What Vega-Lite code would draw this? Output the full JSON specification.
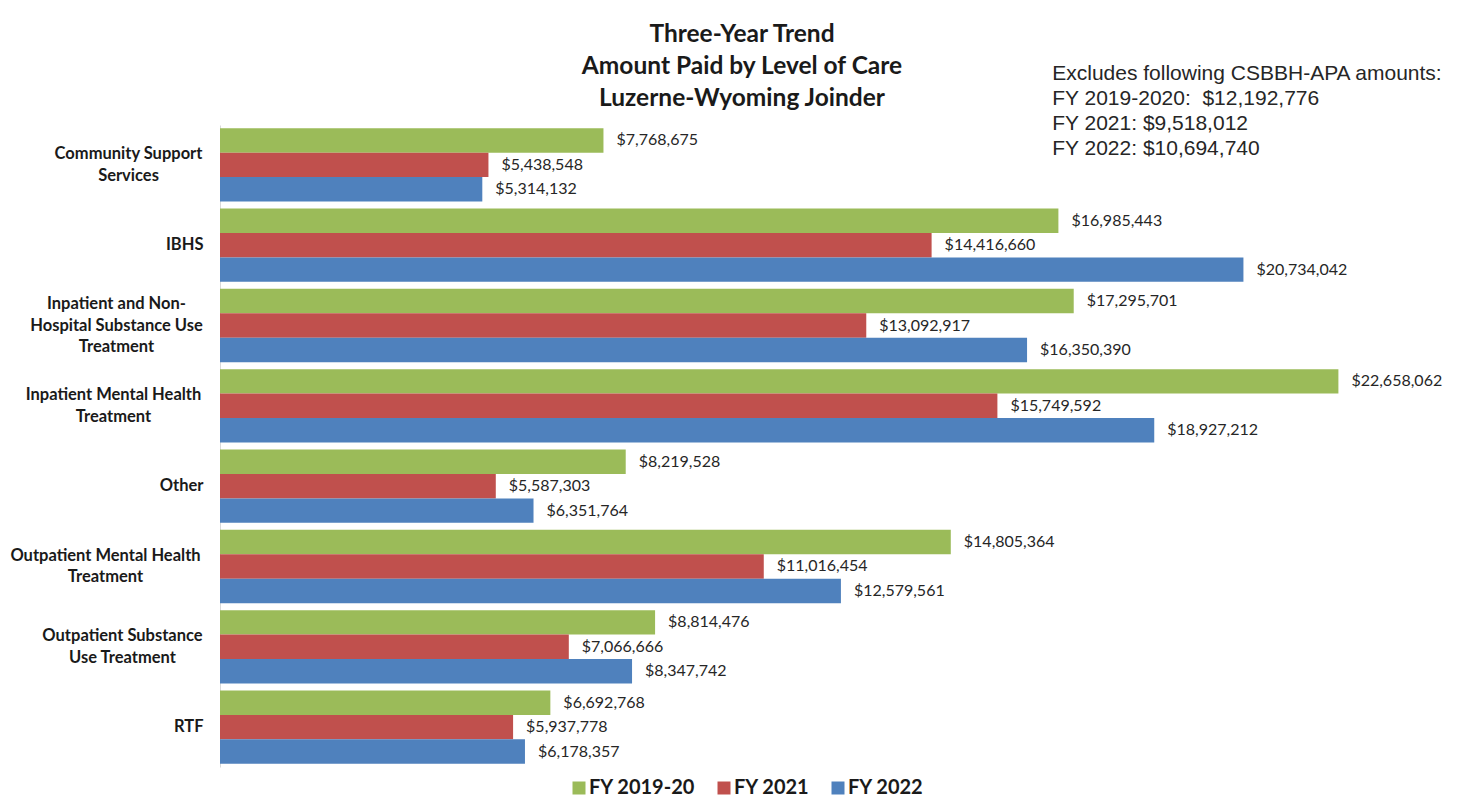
{
  "$schema": "https://vega.github.io/schema/vega-lite/v6.json",
  "width": 1234,
  "height": 642,
  "autosize": {"type": "none"},
  "padding": {"left": 220, "top": 125, "right": 28, "bottom": 44},
  "background": "white",
  "title": {
    "text": ["Three-Year Trend", "Amount Paid by Level of Care", "Luzerne-Wyoming Joinder"],
    "font": "Lato",
    "fontSize": 24.5,
    "fontWeight": "bold",
    "lineHeight": 32,
    "color": "#1a1a1a",
    "anchor": "middle",
    "dx": -95,
    "dy": 61,
    "offset": 12
  },
  "data": {
    "values": [
      {"category": "Community Support Services", "series": "FY 2019-20", "amount": 7768675},
      {"category": "Community Support Services", "series": "FY 2021", "amount": 5438548},
      {"category": "Community Support Services", "series": "FY 2022", "amount": 5314132},
      {"category": "IBHS", "series": "FY 2019-20", "amount": 16985443},
      {"category": "IBHS", "series": "FY 2021", "amount": 14416660},
      {"category": "IBHS", "series": "FY 2022", "amount": 20734042},
      {"category": "Inpatient and Non-Hospital Substance Use Treatment", "series": "FY 2019-20", "amount": 17295701},
      {"category": "Inpatient and Non-Hospital Substance Use Treatment", "series": "FY 2021", "amount": 13092917},
      {"category": "Inpatient and Non-Hospital Substance Use Treatment", "series": "FY 2022", "amount": 16350390},
      {"category": "Inpatient Mental Health Treatment", "series": "FY 2019-20", "amount": 22658062},
      {"category": "Inpatient Mental Health Treatment", "series": "FY 2021", "amount": 15749592},
      {"category": "Inpatient Mental Health Treatment", "series": "FY 2022", "amount": 18927212},
      {"category": "Other", "series": "FY 2019-20", "amount": 8219528},
      {"category": "Other", "series": "FY 2021", "amount": 5587303},
      {"category": "Other", "series": "FY 2022", "amount": 6351764},
      {"category": "Outpatient Mental Health Treatment", "series": "FY 2019-20", "amount": 14805364},
      {"category": "Outpatient Mental Health Treatment", "series": "FY 2021", "amount": 11016454},
      {"category": "Outpatient Mental Health Treatment", "series": "FY 2022", "amount": 12579561},
      {"category": "Outpatient Substance Use Treatment", "series": "FY 2019-20", "amount": 8814476},
      {"category": "Outpatient Substance Use Treatment", "series": "FY 2021", "amount": 7066666},
      {"category": "Outpatient Substance Use Treatment", "series": "FY 2022", "amount": 8347742},
      {"category": "RTF", "series": "FY 2019-20", "amount": 6692768},
      {"category": "RTF", "series": "FY 2021", "amount": 5937778},
      {"category": "RTF", "series": "FY 2022", "amount": 6178357}
    ]
  },
  "encoding": {
    "y": {
      "field": "category",
      "type": "nominal",
      "sort": null,
      "scale": {"paddingInner": 0.087, "paddingOuter": 0.04},
      "axis": {
        "title": null,
        "ticks": false,
        "domainColor": "#d9d9d9",
        "domainWidth": 1,
        "labelFont": "Lato",
        "labelFontSize": 16.5,
        "labelFontWeight": "bold",
        "labelColor": "#1a1a1a",
        "labelLineHeight": 21.5,
        "labelBaseline": "middle",
        "labelLimit": 0,
        "labelExpr": "datum.value == 'Community Support Services' ? ['Community Support', 'Services'] : datum.value == 'Inpatient and Non-Hospital Substance Use Treatment' ? ['Inpatient and Non-', 'Hospital Substance Use', 'Treatment'] : datum.value == 'Inpatient Mental Health Treatment' ? ['Inpatient Mental Health', 'Treatment'] : datum.value == 'Outpatient Mental Health Treatment' ? ['Outpatient Mental Health', 'Treatment'] : datum.value == 'Outpatient Substance Use Treatment' ? ['Outpatient Substance', 'Use Treatment'] : datum.value",
        "labelAlign": {
          "condition": {"test": "indexof(['IBHS','Other','RTF'], datum.value) >= 0", "value": "right"},
          "value": "center"
        },
        "labelOffset": {
          "condition": [
            {"test": "indexof(['IBHS','Other','RTF'], datum.value) >= 0", "value": 0},
            {"test": "datum.value == 'Inpatient and Non-Hospital Substance Use Treatment'", "value": -21.5}
          ],
          "value": -10.75
        },
        "labelPadding": {
          "condition": [
            {"test": "indexof(['IBHS','Other','RTF'], datum.value) >= 0", "value": 17},
            {"test": "datum.value == 'Community Support Services'", "value": 92},
            {"test": "datum.value == 'Inpatient and Non-Hospital Substance Use Treatment'", "value": 104},
            {"test": "datum.value == 'Inpatient Mental Health Treatment'", "value": 107},
            {"test": "datum.value == 'Outpatient Mental Health Treatment'", "value": 115}
          ],
          "value": 98
        }
      }
    }
  },
  "layer": [
    {
      "mark": {"type": "bar"},
      "encoding": {
        "x": {"field": "amount", "type": "quantitative", "scale": {"domain": [0, 25000000], "nice": false}, "axis": null},
        "yOffset": {"field": "series", "type": "nominal", "scale": {"domain": ["FY 2019-20", "FY 2021", "FY 2022"], "paddingInner": 0, "paddingOuter": 0}},
        "color": {
          "field": "series",
          "type": "nominal",
          "scale": {"domain": ["FY 2019-20", "FY 2021", "FY 2022"], "range": ["#9BBB59", "#C0504D", "#4F81BD"]},
          "legend": {
            "title": null,
            "orient": "none",
            "legendX": 349,
            "legendY": 653,
            "direction": "horizontal",
            "symbolType": "square",
            "symbolSize": 169,
            "symbolStrokeWidth": 0,
            "labelFont": "Lato",
            "labelFontSize": 20,
            "labelFontWeight": "bold",
            "labelColor": "#1a1a1a",
            "labelOffset": 0,
            "columnPadding": 18
          }
        }
      }
    },
    {
      "mark": {"type": "text", "align": "left", "baseline": "middle", "dx": 13, "font": "Lato", "fontSize": 16, "color": "#262626"},
      "encoding": {
        "x": {"field": "amount", "type": "quantitative"},
        "yOffset": {"field": "series", "type": "nominal"},
        "text": {"field": "amount", "type": "quantitative", "format": "$,.0f"}
      }
    },
    {
      "data": {"values": [{"note": "CSBBH-APA"}]},
      "mark": {
        "type": "text",
        "align": "left",
        "baseline": "top",
        "font": "Liberation Sans",
        "fontSize": 21,
        "lineHeight": 25,
        "color": "#262626",
        "dy": -102,
        "text": ["Excludes following CSBBH-APA amounts:", "FY 2019-2020:\u00a0 $12,192,776", "FY 2021: $9,518,012", "FY 2022: $10,694,740"]
      },
      "encoding": {
        "x": {"datum": 16860000, "type": "quantitative"},
        "y": {"datum": "Community Support Services", "type": "nominal"}
      }
    }
  ],
  "config": {
    "view": {"stroke": null},
    "axis": {"grid": false}
  }
}
